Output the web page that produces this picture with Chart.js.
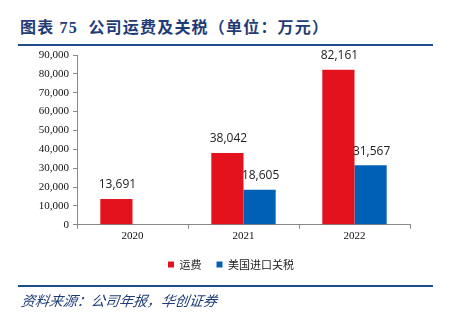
<!DOCTYPE html>
<html><head><meta charset="utf-8">
<script src="https://cdn.jsdelivr.net/npm/chart.js@4/dist/chart.umd.min.js"></script>
<style>
html,body{margin:0;padding:0;background:#fff;}
#wrap{position:relative;width:456px;height:323px;overflow:hidden;}
#title{position:absolute;left:20px;top:14px;font-family:"Liberation Serif","Noto Sans CJK SC",serif;font-weight:bold;font-size:16px;color:#1F3C78;letter-spacing:1.2px;white-space:nowrap;}
#line1{position:absolute;left:18px;top:44px;width:415px;height:2px;background:#1F4E8C;}
#line2{position:absolute;left:18px;top:285px;width:415px;height:2px;background:#1F4E8C;}
#src{position:absolute;left:20px;top:290px;font-family:"Noto Sans CJK SC",sans-serif;font-style:italic;font-size:14px;color:#1F3C78;white-space:nowrap;transform:skewX(-8deg);transform-origin:left bottom;}
canvas{position:absolute;left:0;top:0;}
</style></head>
<body><div id="wrap">
<div id="title">图表 75&nbsp; 公司运费及关税（单位：万元）</div>
<div id="line1"></div>
<canvas id="c" width="456" height="323"></canvas>
<div id="line2"></div>
<div id="src">资料来源：公司年报，华创证券</div>
</div>
<script>
const categories = ['2020','2021','2022'];
const freight = [13691, 38042, 82161];
const tariff = [null, 18605, 31567];
const seriesNames = ['运费','美国进口关税'];
const yTicks = [0,10000,20000,30000,40000,50000,60000,70000,80000,90000];

const labelPlugin = {
  id:'labels',
  afterDatasetsDraw(chart){
    const ctx = chart.ctx;
    ctx.save();
    ctx.font = '12px "Open Sans","DejaVu Sans",sans-serif';
    ctx.fillStyle = '#222';
    ctx.textAlign = 'center';
    ctx.textBaseline = 'bottom';
    chart.data.datasets.forEach((ds,i)=>{
      const meta = chart.getDatasetMeta(i);
      meta.data.forEach((bar,j)=>{
        const v = ds.data[j];
        if(v==null) return;
        ctx.fillText(v.toLocaleString('en-US'), bar.x + 1, bar.y - 8);
      });
    });
    ctx.restore();
  }
};
const legendShift = {
  id:'legendShift',
  afterLayout(chart){
    if(chart.legend){ chart.legend.left += 16; chart.legend.right += 16; }
  }
};

new Chart(document.getElementById('c'),{
  type:'bar',
  data:{labels:categories,datasets:[
    {label:seriesNames[0],data:freight,backgroundColor:'#E3121C',categoryPercentage:0.58,barPercentage:1},
    {label:seriesNames[1],data:tariff,backgroundColor:'#0060B6',categoryPercentage:0.58,barPercentage:1}
  ]},
  options:{
    responsive:false,animation:false,
    layout:{padding:{left:20,right:46,top:55,bottom:43}},
    plugins:{
      legend:{position:'bottom',labels:{boxWidth:6,boxHeight:6,padding:15,color:'#222',font:{family:'"Noto Sans CJK SC",sans-serif',size:11}}},
      tooltip:{enabled:false}
    },
    scales:{
      x:{grid:{drawOnChartArea:false,drawTicks:true,tickLength:4,color:'#888'},border:{color:'#888'},
         ticks:{color:'#111',font:{family:'"Liberation Serif",serif',size:11},padding:1}},
      y:{min:0,max:90000,afterBuildTicks(s){s.ticks=yTicks.map(v=>({value:v}));},
         afterFit(s){s.width=57;},
         grid:{drawOnChartArea:false,drawTicks:true,tickLength:4,color:'#888'},border:{color:'#888'},
         ticks:{color:'#111',font:{family:'"Liberation Serif",serif',size:11},padding:4,callback:v=>v.toLocaleString('en-US')}}
    }
  },
  plugins:[labelPlugin, legendShift]
});
</script>
</body></html>
